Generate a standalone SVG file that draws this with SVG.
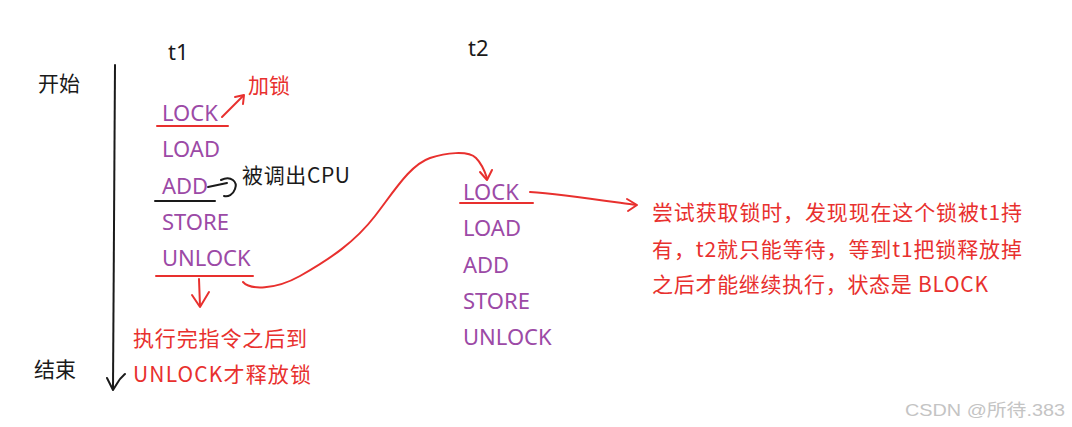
<svg xmlns="http://www.w3.org/2000/svg" width="1072" height="427" viewBox="0 0 1072 427">
<style>
text { font-family: "Noto Sans", "Noto Sans CJK SC", sans-serif; }
.cjk { font-family: "Noto Sans CJK SC", "Noto Sans", sans-serif; font-size: 21px; }
.op { fill: #9c4aa6; font-size: 22px; }
.blk { fill: #1a1a1a; }
.red { fill: #e8302e; }
.rl { stroke: #e8302e; stroke-width: 2; fill: none; stroke-linecap: round; stroke-linejoin: round; }
.bl { stroke: #1a1a1a; stroke-width: 2; fill: none; stroke-linecap: round; stroke-linejoin: round; }
.wm { fill: #c4c4c4; font-size: 17px; font-family: "Liberation Sans", "Noto Sans CJK SC", sans-serif; }
</style>
<rect width="1072" height="427" fill="#ffffff"/>

<g id="timeline">
  <text class="cjk blk" x="38" y="91">开始</text>
  <text class="cjk blk" x="34" y="377">结束</text>
  <path class="bl" d="M115,65 L113,389"/>
  <path class="bl" d="M107,378 L113,390 L118,382 C120,378 123,376 125,374"/>
</g>

<g id="t1">
  <text class="blk" x="168" y="60" font-size="22">t1</text>
  <text class="op" x="162" y="121">LOCK</text>
  <text class="op" x="162" y="157">LOAD</text>
  <text class="op" x="162" y="194">ADD</text>
  <text class="op" x="162" y="230">STORE</text>
  <text class="op" x="162" y="266">UNLOCK</text>
  <path class="rl" d="M157,126 L228,126"/>
  <path class="bl" d="M155,201 L215,201"/>
  <path class="rl" d="M156,276 L253,276"/>
</g>

<g id="t2">
  <text class="blk" x="468" y="56" font-size="22">t2</text>
  <text class="op" x="463" y="200">LOCK</text>
  <text class="op" x="463" y="236">LOAD</text>
  <text class="op" x="463" y="273">ADD</text>
  <text class="op" x="463" y="309">STORE</text>
  <text class="op" x="463" y="345">UNLOCK</text>
  <path class="rl" d="M460,203 L533,203"/>
</g>

<g id="note-lock">
  <text class="cjk red" x="248" y="93">加锁</text>
</g>
<g id="note-cpu">
  <text class="cjk blk" x="242" y="183" textLength="108" lengthAdjust="spacing">被调出CPU</text>
</g>
<g id="note-unlock">
  <text class="cjk red" x="133" y="346" textLength="174" lengthAdjust="spacing">执行完指令之后到</text>
  <text class="cjk red" x="133" y="382" textLength="178" lengthAdjust="spacing">UNLOCK才释放锁</text>
</g>
<g id="note-block">
  <text class="cjk red" x="652" y="220" textLength="370" lengthAdjust="spacing">尝试获取锁时，发现现在这个锁被t1持</text>
  <text class="cjk red" x="652" y="257" textLength="370" lengthAdjust="spacing">有，t2就只能等待，等到t1把锁释放掉</text>
  <text class="cjk red" x="652" y="292" textLength="336" lengthAdjust="spacing">之后才能继续执行，状态是 BLOCK</text>
</g>

<g id="connectors">
  <path class="rl" d="M222,117 L243,96"/>
  <path class="rl" d="M235,97 L244,95 L243,104"/>
  <path class="bl" d="M208,187 L227,183 M221,180 C231,175 238,182 235,189 C233,195 228,197 224,196"/>
  <path class="rl" d="M199,279 L200,306"/>
  <path class="rl" d="M192,295 L200,307 L209,292"/>
  <path class="rl" d="M243,282 C250,290 275,290 300,276 C330,259 355,242 375,216 C395,190 410,165 430,158 C445,153 468,150 476,158 C482,164 485,172 487,178"/>
  <path class="rl" d="M480,172 L487,180 L492,170"/>
  <path class="rl" d="M530,192 C560,194 600,200 636,205"/>
  <path class="rl" d="M627,199 L637,205 L628,211"/>
</g>

<text class="wm" x="905" y="416" textLength="160" lengthAdjust="spacingAndGlyphs">CSDN @所待.383</text>
</svg>
